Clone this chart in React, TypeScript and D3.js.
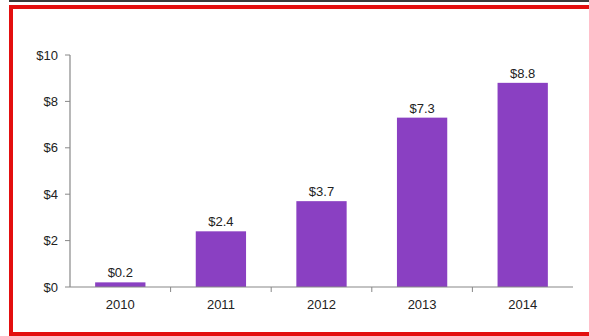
import React from "react";
import * as d3 from "d3";

const categories = ["2010", "2011", "2012", "2013", "2014"];
const values = [0.2, 2.4, 3.7, 7.3, 8.8];
const yTicks = [0, 2, 4, 6, 8, 10];

const W = 589;
const H = 336;
const left = 70;
const right = 573;
const top = 55;
const bottom = 287;
const font = "'Liberation Sans', Arial, sans-serif";

export default function App() {
  const x = d3.scaleBand<string>().domain(categories).range([left, right]).paddingInner(0.5).paddingOuter(0.25);
  const xb = d3.scaleBand<string>().domain(categories).range([left, right]);
  const y = d3.scaleLinear().domain([0, 10]).range([bottom, top]);

  return (
    <svg width={W} height={H} style={{ position: "absolute", left: 0, top: 0, background: "#fff" }}>
      <rect x={9} y={0} width={W - 9} height={2} fill="#3a3a3a" />
      <rect x={11} y={7} width={620} height={327} fill="none" stroke="#e30f0f" strokeWidth={4} />
      {categories.map((c, i) => (
        <g key={c}>
          <rect x={x(c)} y={y(values[i])} width={x.bandwidth()} height={bottom - y(values[i])} fill="#8a40c2" />
          <text x={x(c)! + x.bandwidth() / 2} y={y(values[i]) - 5} textAnchor="middle" fontFamily={font} fontSize={13} fill="#222">
            {"$" + values[i].toFixed(1)}
          </text>
          <text x={xb(c)! + xb.bandwidth() / 2} y={309} textAnchor="middle" fontFamily={font} fontSize={13} fill="#222">
            {c}
          </text>
        </g>
      ))}
      <line x1={left} x2={left} y1={top} y2={bottom} stroke="#888" strokeWidth={1.2} />
      <line x1={left} x2={right} y1={bottom} y2={bottom} stroke="#888" strokeWidth={1.2} />
      {yTicks.map((t) => (
        <g key={t}>
          <line x1={left - 5} x2={left} y1={y(t)} y2={y(t)} stroke="#888" />
          <text x={left - 12} y={y(t) + 4.5} textAnchor="end" fontFamily={font} fontSize={13} fill="#222">
            {"$" + t}
          </text>
        </g>
      ))}
      {categories.slice(1).map((c) => (
        <line key={c} x1={xb(c)} x2={xb(c)} y1={bottom} y2={bottom + 5} stroke="#888" />
      ))}
    </svg>
  );
}
